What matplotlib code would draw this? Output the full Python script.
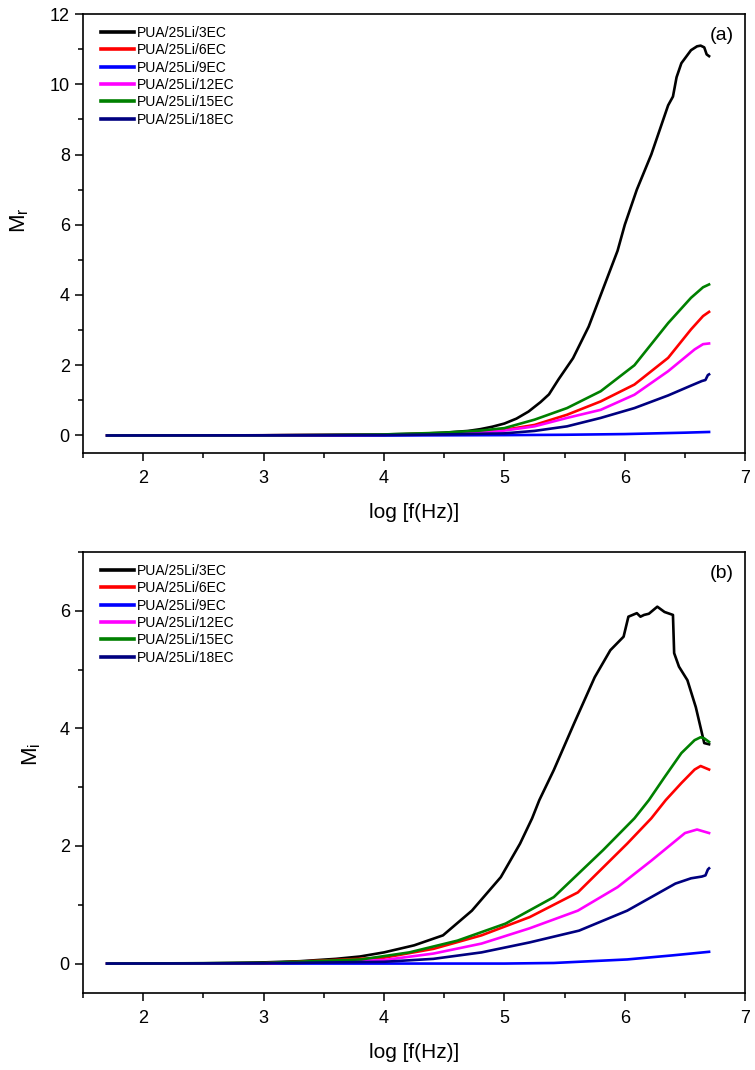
import matplotlib
matplotlib.use("Agg")
import matplotlib.pyplot as plt
from matplotlib.ticker import MultipleLocator

plt.rcParams['font.family'] = ['Liberation Sans', 'DejaVu Sans']
plt.rcParams['mathtext.fontset'] = 'custom'
plt.rcParams['mathtext.rm'] = 'Liberation Sans'
plt.rcParams['mathtext.it'] = 'Liberation Sans:italic'

labels = ["PUA/25Li/3EC", "PUA/25Li/6EC", "PUA/25Li/9EC",
          "PUA/25Li/12EC", "PUA/25Li/15EC", "PUA/25Li/18EC"]
colors = ["#000000", "#FF0000", "#0000FF", "#FF00FF", "#008000", "#000080"]

# ---- Panel (a): M_r ----
mr_3_x = [1.7, 2.5, 3.0, 3.5, 4.0, 4.3, 4.5, 4.7, 4.8, 4.9, 5.0, 5.1, 5.2, 5.3, 5.37, 5.45, 5.57,
          5.7, 5.8, 5.94, 6.0, 6.1, 6.22, 6.3, 6.36, 6.4, 6.43, 6.47, 6.55, 6.6, 6.63, 6.66, 6.68, 6.7]
mr_3_y = [0, 0, 0.005, 0.01, 0.03, 0.05, 0.08, 0.13, 0.18, 0.25, 0.34, 0.48, 0.68, 0.95, 1.17, 1.6, 2.2,
          3.1, 4.0, 5.26, 6.0, 7.0, 8.0, 8.8, 9.4, 9.65, 10.2, 10.6, 10.97, 11.08, 11.1, 11.05, 10.85, 10.8]
mr_6_x = [1.7, 3.0, 4.0, 4.5, 4.8, 5.0, 5.25, 5.52, 5.8, 6.08, 6.36, 6.55, 6.65, 6.7]
mr_6_y = [0, 0.005, 0.02, 0.06, 0.1, 0.16, 0.30, 0.59, 0.97, 1.45, 2.21, 3.02, 3.4, 3.52]
mr_9_x = [1.7, 4.0, 5.0, 5.5, 6.0, 6.5, 6.7]
mr_9_y = [0, 0, 0.01, 0.02, 0.04, 0.08, 0.1]
mr_12_x = [1.7, 3.0, 4.0, 4.5, 4.8, 5.0, 5.25, 5.52, 5.8, 6.08, 6.36, 6.58, 6.65, 6.7]
mr_12_y = [0, 0.005, 0.02, 0.05, 0.09, 0.14, 0.26, 0.5, 0.73, 1.16, 1.83, 2.45, 2.6, 2.62]
mr_15_x = [1.7, 3.0, 4.0, 4.5, 4.8, 5.0, 5.25, 5.52, 5.8, 6.08, 6.36, 6.55, 6.65, 6.7]
mr_15_y = [0, 0.005, 0.03, 0.08, 0.14, 0.21, 0.45, 0.78, 1.26, 2.0, 3.2, 3.92, 4.22, 4.3]
mr_18_x = [1.7, 3.0, 4.0, 4.5, 5.0, 5.25, 5.52, 5.8, 6.08, 6.36, 6.55, 6.64, 6.67, 6.69, 6.7]
mr_18_y = [0, 0.005, 0.01, 0.03, 0.06, 0.13, 0.26, 0.5, 0.78, 1.14, 1.42, 1.55, 1.58, 1.72, 1.74]

# ---- Panel (b): M_i ----
mi_3_x = [1.7, 2.5, 3.0, 3.3, 3.6, 3.8, 4.0, 4.25, 4.49, 4.73, 4.97, 5.13, 5.23, 5.29, 5.41, 5.58,
          5.75, 5.88, 5.99, 6.03, 6.1, 6.13, 6.16, 6.2, 6.27, 6.33, 6.4, 6.41, 6.45, 6.52, 6.59, 6.66, 6.7]
mi_3_y = [0, 0.005, 0.02, 0.04, 0.08, 0.12, 0.19, 0.31, 0.48, 0.9, 1.47, 2.04, 2.47, 2.78, 3.29, 4.09,
          4.87, 5.33, 5.56, 5.9, 5.96, 5.9, 5.93, 5.95, 6.07, 5.98, 5.93, 5.28, 5.05, 4.82, 4.36, 3.75, 3.73]
mi_6_x = [1.7, 3.0, 4.0, 4.41, 4.81, 5.21, 5.61, 6.02, 6.22, 6.34, 6.47, 6.58, 6.63, 6.7]
mi_6_y = [0, 0.005, 0.1, 0.25, 0.48, 0.79, 1.21, 2.04, 2.47, 2.78, 3.07, 3.3, 3.36, 3.3]
mi_9_x = [1.7, 4.0, 5.0, 5.41, 6.02, 6.4, 6.7]
mi_9_y = [0, 0, 0, 0.01, 0.07, 0.14, 0.2]
mi_12_x = [1.7, 3.0, 4.0, 4.41, 4.81, 5.21, 5.61, 5.94, 6.22, 6.5, 6.6, 6.7]
mi_12_y = [0, 0.005, 0.06, 0.17, 0.34, 0.6, 0.9, 1.3, 1.75, 2.22, 2.28, 2.22]
mi_15_x = [1.7, 3.0, 3.81, 4.21, 4.61, 5.01, 5.41, 5.82, 6.08, 6.2, 6.33, 6.47, 6.58, 6.63, 6.66, 6.7]
mi_15_y = [0, 0.01, 0.07, 0.19, 0.39, 0.68, 1.13, 1.93, 2.47, 2.78, 3.17, 3.58, 3.8, 3.85, 3.83, 3.77]
mi_18_x = [1.7, 3.0, 4.0, 4.41, 4.81, 5.21, 5.62, 6.02, 6.42, 6.55, 6.64, 6.67, 6.69, 6.7]
mi_18_y = [0, 0.005, 0.03, 0.08, 0.19, 0.36, 0.56, 0.9, 1.36, 1.45, 1.48, 1.5, 1.6, 1.62]

top_series = [(mr_3_x, mr_3_y), (mr_6_x, mr_6_y), (mr_9_x, mr_9_y),
              (mr_12_x, mr_12_y), (mr_15_x, mr_15_y), (mr_18_x, mr_18_y)]
bot_series = [(mi_3_x, mi_3_y), (mi_6_x, mi_6_y), (mi_9_x, mi_9_y),
              (mi_12_x, mi_12_y), (mi_15_x, mi_15_y), (mi_18_x, mi_18_y)]

fig = plt.figure(figsize=(7.55, 10.70), dpi=100)
ax1 = fig.add_axes([0.110, 0.5766, 0.877, 0.4103])
ax2 = fig.add_axes([0.110, 0.0720, 0.877, 0.4121])


def style(ax, series, ylim, ymaj, ymin_, ylabel, tag, ylab_xy):
    for (xs, ys), c, lab in zip(series, colors, labels):
        ax.plot(xs, ys, color=c, lw=1.9, label=lab)
    ax.set_xlim(1.5, 7)
    ax.set_ylim(*ylim)
    ax.xaxis.set_major_locator(MultipleLocator(1))
    ax.xaxis.set_minor_locator(MultipleLocator(0.5))
    ax.yaxis.set_major_locator(MultipleLocator(ymaj))
    ax.yaxis.set_minor_locator(MultipleLocator(ymin_))
    ax.tick_params(which='both', direction='out', top=False, right=False, labelsize=13, width=1.1)
    ax.tick_params(which='major', length=6)
    ax.tick_params(which='minor', length=3.5)
    ax.tick_params(axis='x', pad=6)
    for s in ax.spines.values():
        s.set_linewidth(1.2)
    xt = ax.get_xticks()
    ax.set_xticks([t for t in xt if 2 <= t <= 7])
    ax.set_xlabel("log [f(Hz)]", fontsize=15, labelpad=12)
    ax.set_ylabel(ylabel, fontsize=16)
    ax.yaxis.set_label_coords(*ylab_xy)
    leg = ax.legend(loc='upper left', bbox_to_anchor=(0.012, 0.995), frameon=False, fontsize=10,
                    handlelength=2.4, handletextpad=0.2, labelspacing=0.24, borderaxespad=0.3)
    for l in leg.get_lines():
        l.set_linewidth(2.6)
    ax.text(0.965, 0.952, tag, transform=ax.transAxes, ha='center', va='center', fontsize=14)


style(ax1, top_series, (-0.5, 12), 2, 1, r"M$_{\rm r}$", "(a)", (-0.078, 0.53))
style(ax2, bot_series, (-0.5, 7), 2, 1, r"M$_{\rm i}$", "(b)", (-0.061, 0.54))

fig.savefig("out.png", dpi=100)
